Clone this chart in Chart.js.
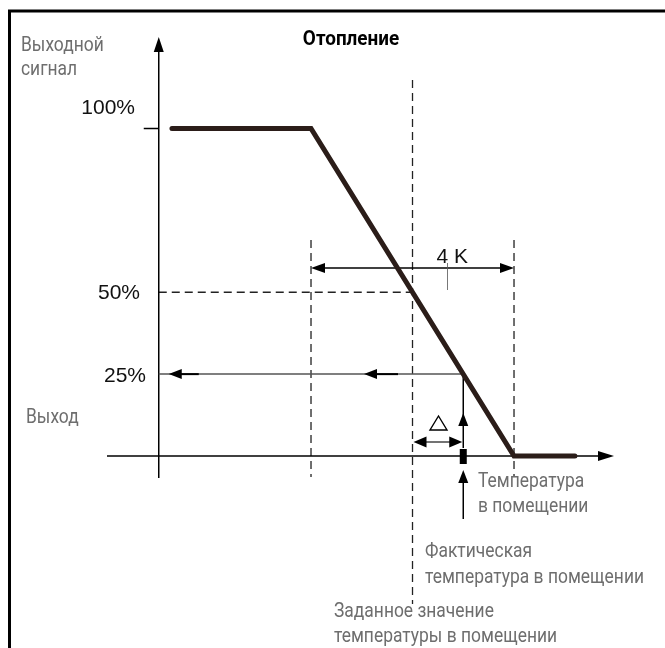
<!DOCTYPE html>
<html lang="ru">
<head>
<meta charset="UTF-8">
<title>Отопление</title>
<script src="https://cdn.jsdelivr.net/npm/chart.js"></script>
<style>
  html, body { margin: 0; padding: 0; background: #fff; }
  #wrap { position: relative; width: 665px; height: 648px; }
</style>
</head>
<body>
<div id="wrap"><canvas id="heatChart"></canvas></div>
<script>
// heating curve: output signal (%) against room temperature (K from setpoint)
const curveTemp = [-4.74, -2, 2, 3.2];
const curveOutput = [100, 100, 0, 0];
const levels = [100, 50, 25];
const levelLabels = ['100%', '50%', '25%'];
const bandEdges = [-2, 2];      // 4 K proportional band
const bandLabel = '4 K';
const setpoint = 0;
const actualTemp = 1;
const actualOutput = 25;

const GREY = '#6e6e6e';

function arrowHead(ctx, tx, ty, dx, dy, len, hw) {
  const nx = -dy, ny = dx;
  ctx.beginPath();
  ctx.moveTo(tx, ty);
  ctx.lineTo(tx - dx * len + nx * hw, ty - dy * len + ny * hw);
  ctx.lineTo(tx - dx * len - nx * hw, ty - dy * len - ny * hw);
  ctx.closePath();
  ctx.fill();
}

function line(ctx, x1, y1, x2, y2) {
  ctx.beginPath();
  ctx.moveTo(x1, y1);
  ctx.lineTo(x2, y2);
  ctx.stroke();
}

// condensed look: squeeze Roboto horizontally
function narrowText(ctx, text, x, y, font, color, align, squeeze) {
  ctx.save();
  ctx.font = font;
  ctx.fillStyle = color;
  ctx.textBaseline = 'alphabetic';
  ctx.translate(x, y);
  ctx.scale(squeeze || 0.83, 1);
  let w = ctx.measureText(text).width;
  let ox = align === 'center' ? -w / 2 : 0;
  ctx.fillText(text, ox, 0);
  ctx.restore();
}

const diagram = {
  id: 'diagram',
  beforeDatasetsDraw(chart) {
    const ctx = chart.ctx;
    const sx = chart.scales.x, sy = chart.scales.y;
    const px = v => sx.getPixelForValue(v);
    const py = v => sy.getPixelForValue(v);
    const axisX = px(-5), axisY = py(0);

    ctx.save();
    // frame
    ctx.strokeStyle = '#000';
    ctx.lineWidth = 3;
    ctx.beginPath();
    ctx.moveTo(9.5, 648);
    ctx.lineTo(9.5, 11);
    ctx.lineTo(665, 11);
    ctx.stroke();

    // dashed guides
    ctx.strokeStyle = '#222';
    ctx.lineWidth = 1.3;
    ctx.setLineDash([8, 5]);
    line(ctx, px(setpoint), 80, px(setpoint), 604);
    bandEdges.forEach(e => line(ctx, px(e), 240, px(e), 477));
    line(ctx, axisX, py(50), px(setpoint), py(50));
    ctx.setLineDash([]);

    // axes
    ctx.strokeStyle = '#000';
    ctx.fillStyle = '#000';
    ctx.lineWidth = 1.5;
    line(ctx, axisX, 478, axisX, 45);
    arrowHead(ctx, axisX, 37, 0, -1, 15, 5);
    line(ctx, 107, axisY, 605, axisY);
    arrowHead(ctx, 614, axisY, 1, 0, 16, 5);
    line(ctx, axisX - 15, py(100), axisX, py(100));

    // 4 K band arrow
    const bandY = 268;
    ctx.lineWidth = 1.5;
    line(ctx, px(bandEdges[0]) + 10, bandY, px(bandEdges[1]) - 10, bandY);
    arrowHead(ctx, px(bandEdges[0]), bandY, -1, 0, 14, 5);
    arrowHead(ctx, px(bandEdges[1]), bandY, 1, 0, 14, 5);
    const mid = (px(bandEdges[0]) + px(bandEdges[1])) / 2;
    ctx.lineWidth = 0.8;
    ctx.strokeStyle = '#555';
    line(ctx, mid + 35, 263, mid + 35, 290);
    ctx.font = '21px "Liberation Sans", Arial, sans-serif';
    ctx.fillStyle = '#111';
    ctx.fillText(bandLabel, mid + 24, 263);

    // output read-back at 25 %
    const ax = px(actualTemp), ay = py(actualOutput);
    ctx.strokeStyle = '#555';
    ctx.lineWidth = 1.5;
    line(ctx, ax, ay, axisX, ay);
    ctx.strokeStyle = '#000';
    ctx.lineWidth = 2;
    line(ctx, axisX + 18, ay, axisX + 40, ay);
    line(ctx, 372, ay, 398, ay);
    ctx.fillStyle = '#000';
    arrowHead(ctx, axisX + 10, ay, -1, 0, 13, 5);
    arrowHead(ctx, 364, ay, -1, 0, 13, 5);

    // actual temperature marker
    ctx.lineWidth = 1.5;
    line(ctx, ax, axisY - 8, ax, ay);
    arrowHead(ctx, ax, 413, 0, -1, 13, 5);
    ctx.fillRect(ax - 3.5, 449, 7, 15);
    line(ctx, ax, 478, ax, 519);
    arrowHead(ctx, ax, 470, 0, -1, 13, 5);

    // deviation Δ
    const dY = 442;
    ctx.strokeStyle = '#444';
    line(ctx, px(setpoint) + 8, dY, ax - 8, dY);
    arrowHead(ctx, px(setpoint) + 1, dY, -1, 0, 13, 5.5);
    arrowHead(ctx, ax - 1, dY, 1, 0, 13, 5.5);
    ctx.strokeStyle = '#000';
    ctx.lineWidth = 1.4;
    ctx.beginPath();
    ctx.moveTo(438.5, 416);
    ctx.lineTo(447, 430);
    ctx.lineTo(430, 430);
    ctx.closePath();
    ctx.stroke();

    // level labels
    ctx.font = '21px "Liberation Sans", Arial, sans-serif';
    ctx.fillStyle = '#111';
    ctx.textAlign = 'right';
    const labelRight = [135, 140, 146];
    const labelDy = [-15, 7, 8];
    levels.forEach((lv, i) => {
      ctx.fillText(levelLabels[i], labelRight[i], py(lv) + labelDy[i]);
    });
    ctx.textAlign = 'left';

    // captions
    const f = '21px Roboto, sans-serif';
    narrowText(ctx, 'Выходной', 21, 51, f, GREY);
    narrowText(ctx, 'сигнал', 21, 75, f, GREY);
    narrowText(ctx, 'Отопление', 351, 45, 'bold 21px Roboto, sans-serif', '#000', 'center', 0.9);
    narrowText(ctx, 'Выход', 26, 423, f, GREY);
    narrowText(ctx, 'Температура', 478, 487, f, GREY);
    narrowText(ctx, 'в помещении', 478, 512, f, GREY);
    narrowText(ctx, 'Фактическая', 425, 557, f, GREY);
    narrowText(ctx, 'температура в помещении', 425, 583, f, GREY);
    narrowText(ctx, 'Заданное значение', 334, 617, f, GREY);
    narrowText(ctx, 'температуры в помещении', 334, 642, f, GREY);
    ctx.restore();
  }
};

const ctx = document.getElementById('heatChart').getContext('2d');
new Chart(ctx, {
  type: 'line',
  data: {
    datasets: [{
      data: curveTemp.map((t, i) => ({ x: t, y: curveOutput[i] })),
      borderColor: '#2b1d19',
      borderWidth: 5,
      borderCapStyle: 'round',
      borderJoinStyle: 'miter',
      pointRadius: 0,
      tension: 0,
      fill: false
    }]
  },
  options: {
    responsive: true,
    maintainAspectRatio: false,
    animation: false,
    events: [],
    layout: { padding: 0 },
    plugins: { legend: { display: false }, tooltip: { enabled: false } },
    scales: {
      x: { type: 'linear', display: false, min: -8.128, max: 4.975 },
      y: { type: 'linear', display: false, min: -58.63, max: 139.24 }
    }
  },
  plugins: [diagram]
});
</script>
</body>
</html>
